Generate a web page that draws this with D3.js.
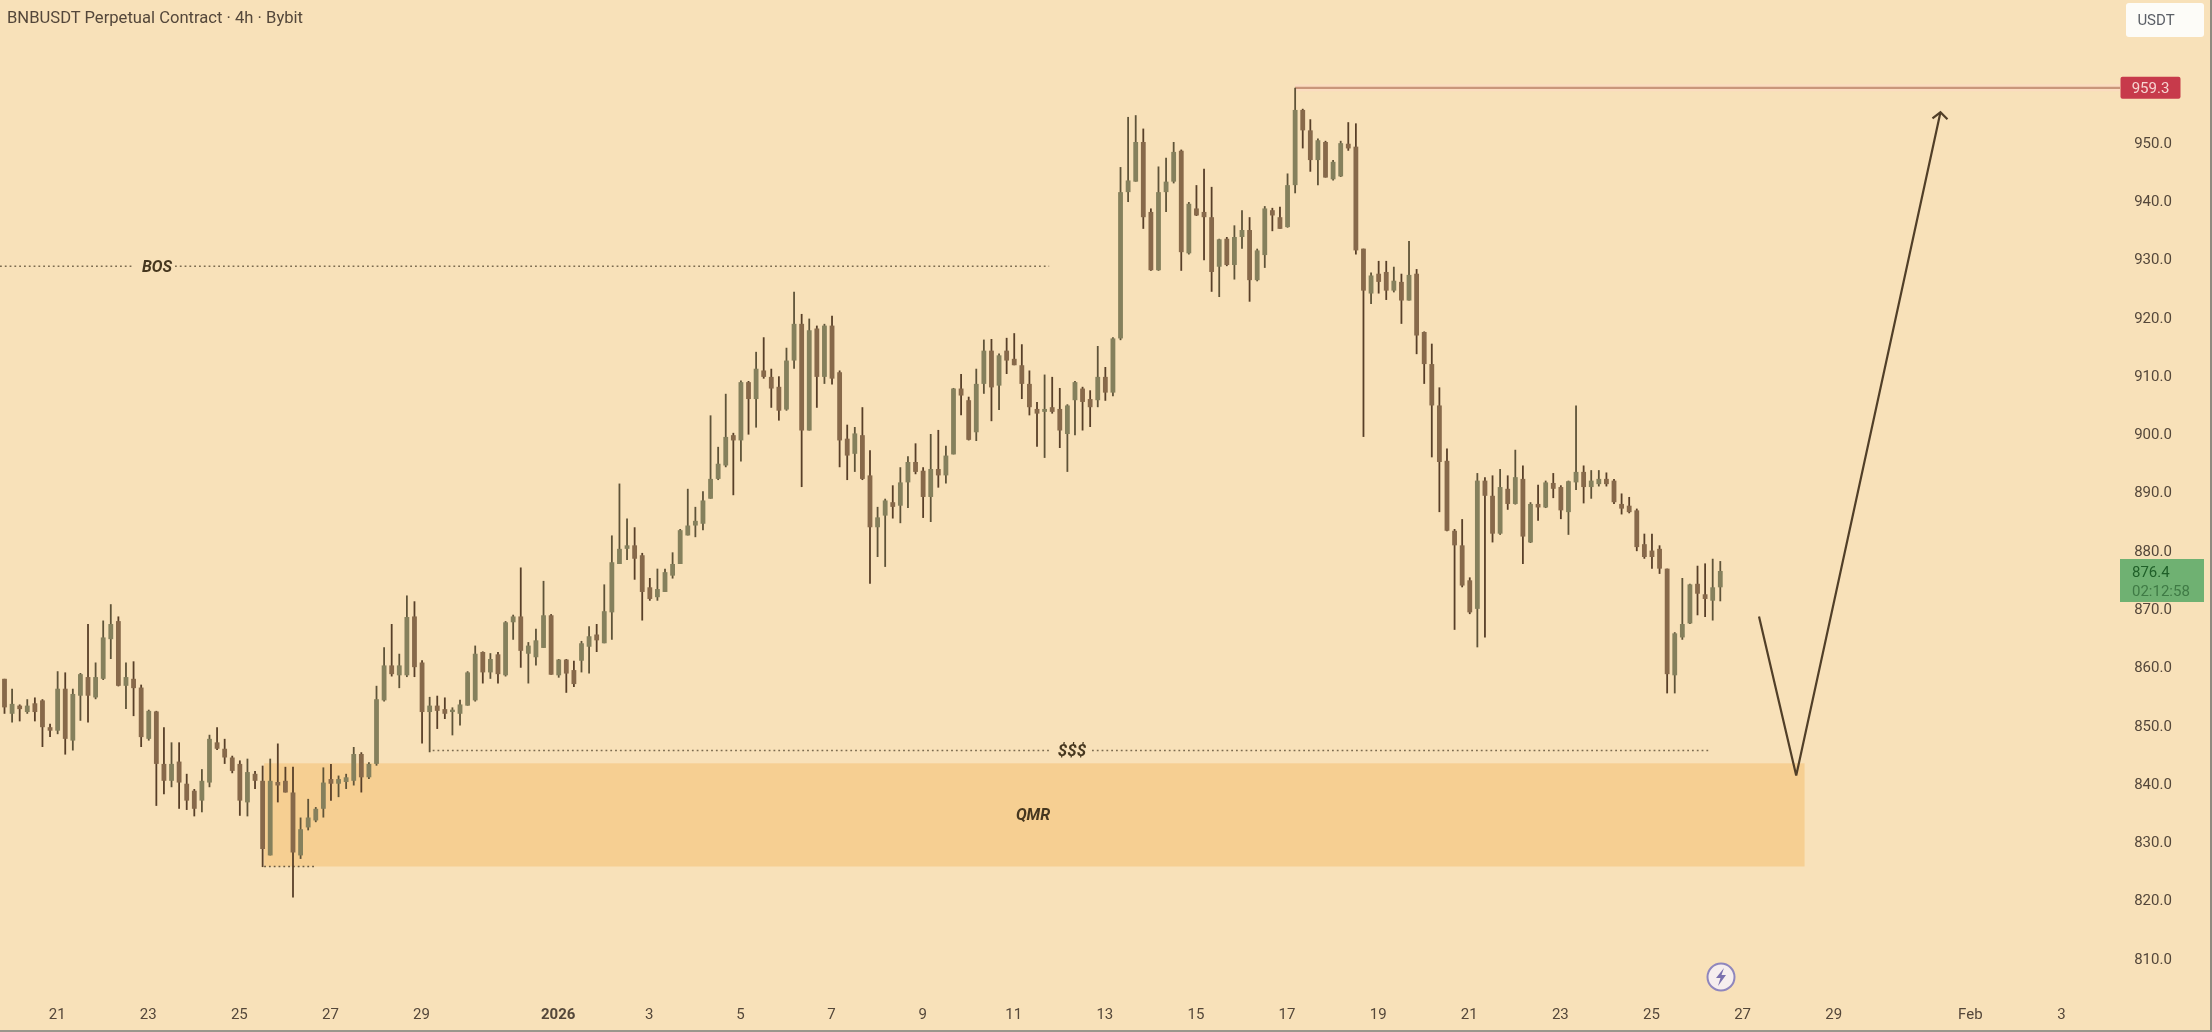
<!DOCTYPE html>
<html><head><meta charset="utf-8">
<script src="https://cdn.jsdelivr.net/npm/d3@7/dist/d3.min.js"></script>
<style>
html,body{margin:0;padding:0;background:#f8e1b9;overflow:hidden}
svg{display:block;filter:blur(0.7px)}
text{font-family:Roboto,sans-serif}
</style></head><body><svg id="c" width="2212" height="1032"></svg>
<script>
const title = "BNBUSDT Perpetual Contract · 4h · Bybit";
const firstBar = new Date(2025, 11, 19, 20);
const opens = [857.9,851.9,853.3,852.2,853.7,854.2,849.6,849.0,856.2,847.3,
855.0,858.2,854.7,857.9,864.7,867.8,856.7,857.9,856.4,847.6,
852.3,843.3,840.4,843.7,839.9,838.7,837.0,840.1,847.0,845.9,
844.4,843.3,836.7,841.6,840.4,827.6,840.2,840.4,838.4,827.6,
832.4,833.6,835.6,840.7,839.9,840.2,840.4,845.0,841.0,843.3,
854.2,860.2,858.5,858.5,868.6,860.7,852.2,853.3,852.7,852.2,
851.9,853.3,854.2,862.5,859.0,862.1,858.5,867.6,868.6,862.2,
861.6,863.2,868.8,858.5,861.2,859.4,861.0,863.4,865.5,864.0,
869.3,877.6,880.2,880.8,879.1,873.6,871.9,872.8,875.6,877.6,
882.5,884.2,884.5,888.8,892.2,894.5,899.7,898.8,908.8,905.9,
910.8,909.7,908.0,904.1,912.5,918.8,900.5,918.0,909.7,918.5,
910.5,899.1,896.5,899.7,892.8,883.9,885.9,888.2,887.6,891.6,
895.1,893.6,889.1,893.9,892.8,896.4,907.7,905.7,900.2,908.5,
914.2,908.2,914.2,912.8,911.7,908.5,904.2,903.7,904.5,904.2,
899.9,905.7,907.7,905.9,905.7,909.7,907.0,916.3,941.4,943.2,
950.0,938.0,928.0,941.4,943.2,948.5,930.9,938.6,938.0,937.1,
928.6,933.4,928.9,933.7,934.9,926.3,930.6,938.3,937.1,935.4,
942.6,955.5,952.0,946.9,950.0,943.6,944.1,949.7,949.2,931.7,
924.0,927.4,927.7,924.5,926.0,922.8,927.4,917.4,911.9,904.8,
895.3,883.3,880.8,874.8,869.9,891.9,889.3,882.8,890.5,887.9,
892.2,881.3,887.9,887.3,891.5,890.8,886.5,891.6,893.4,890.8,
891.3,892.2,891.9,887.9,887.6,886.8,881.0,879.9,880.2,876.8,
858.5,865.0,867.4,874.2,872.4,871.3,873.6];
const closes = [853.0,853.6,852.7,853.3,852.2,849.6,849.0,856.2,847.6,855.3,
858.7,855.0,858.2,865.0,867.3,856.7,858.2,856.3,847.9,852.4,
843.3,840.4,843.3,840.1,837.0,835.6,840.4,847.6,845.9,844.4,
842.1,837.0,841.9,840.4,828.7,840.4,839.6,838.4,828.1,832.1,
834.1,835.6,840.1,839.9,840.7,841.0,845.0,841.0,843.3,854.4,
860.2,858.7,860.2,868.5,859.9,852.2,853.3,852.4,851.9,852.6,
853.5,859.0,862.2,859.0,861.3,858.7,867.6,868.6,862.7,863.6,
864.5,868.8,858.6,861.2,858.8,857.0,864.0,865.2,864.5,869.5,
877.9,880.2,880.8,878.5,872.8,871.6,873.3,876.2,877.6,883.4,
884.2,885.0,888.5,892.2,894.8,899.4,898.8,908.8,905.9,911.1,
909.7,907.7,903.9,912.5,918.8,900.5,917.7,909.7,918.5,909.4,
898.8,896.2,900.0,892.2,883.9,885.6,888.5,887.4,891.6,895.1,
893.4,889.1,893.9,892.8,896.2,907.7,906.5,898.9,908.5,914.2,
907.9,913.4,912.5,911.7,908.5,904.5,903.4,904.2,903.7,900.5,
904.8,908.8,905.4,904.5,909.7,907.0,916.3,941.4,943.4,950.0,
937.1,928.0,941.4,943.2,948.3,931.1,939.4,937.4,937.1,927.7,
933.3,928.9,933.7,934.9,926.3,931.4,938.6,937.4,935.1,942.6,
955.5,952.0,946.9,950.3,943.9,946.6,949.8,948.9,931.4,924.5,
927.1,926.0,924.5,926.2,922.8,927.2,916.8,911.9,904.8,895.1,
883.3,880.8,873.9,869.3,891.9,889.3,882.8,890.8,887.9,892.5,
882.3,887.9,887.3,891.6,890.5,886.8,891.8,893.4,890.8,891.9,
892.2,891.3,888.2,887.1,886.5,880.5,878.8,878.8,876.8,858.7,
865.7,867.3,874.1,872.5,871.6,873.6,876.4];
const highs = [857.9,856.2,853.5,854.4,854.7,854.4,850.2,859.2,859.0,856.2,
858.9,867.3,860.7,867.9,870.7,868.6,860.7,860.9,856.9,852.6,
852.4,849.6,847.0,847.0,841.6,839.0,842.4,848.3,849.6,847.6,
844.7,843.9,844.2,842.1,843.0,844.2,846.8,842.8,842.8,834.1,
837.3,835.9,842.7,843.3,841.3,841.6,846.2,845.3,843.6,856.7,
863.3,867.3,862.2,872.2,871.2,861.1,854.8,855.0,854.7,853.0,
854.3,859.2,863.6,862.6,862.3,862.5,867.8,868.9,877.0,864.2,
866.5,874.7,869.0,861.3,861.3,861.0,864.4,866.9,867.3,874.1,
882.5,891.4,885.4,883.9,879.5,875.2,876.8,876.8,879.6,883.6,
890.5,887.4,890.1,903.1,897.7,906.8,900.1,909.1,909.0,914.0,
916.5,911.1,909.8,914.7,924.3,920.5,919.7,918.5,918.8,920.2,
910.8,901.5,901.1,904.5,897.1,887.4,888.8,891.1,894.2,896.1,
898.3,894.2,899.9,900.6,897.9,907.8,910.2,906.3,911.1,916.1,
916.2,913.7,916.4,917.2,915.3,910.8,905.4,910.1,909.7,907.8,
905.0,909.0,908.0,907.4,915.0,911.4,916.5,945.7,954.3,954.6,
952.3,938.6,945.8,947.3,950.0,948.7,939.7,942.6,945.4,942.3,
933.4,933.7,935.7,938.3,937.1,931.7,939.0,938.7,938.9,944.6,
959.3,955.7,953.9,950.6,950.2,946.9,950.2,953.4,953.2,931.7,
927.6,929.6,929.6,928.6,927.4,933.0,928.2,917.5,915.4,907.9,
897.4,883.6,885.3,875.3,893.2,892.5,892.8,893.9,892.8,897.2,
894.5,888.2,891.2,891.9,893.2,891.1,891.9,904.8,894.5,893.7,
893.7,893.3,892.2,889.7,889.1,887.1,882.8,882.8,880.8,876.8,
865.9,875.2,874.2,877.3,877.7,878.5,878.1];
const lows = [851.9,850.4,850.6,851.9,850.6,846.2,847.9,848.4,844.9,845.6,
850.7,850.4,854.4,857.7,861.3,856.6,852.7,851.5,846.2,847.3,
836.1,838.1,839.3,835.6,835.4,834.3,835.0,839.3,845.7,843.3,
841.7,834.4,834.3,839.0,825.6,827.6,836.7,838.4,820.4,827.0,
831.9,833.3,834.1,837.0,837.6,839.0,839.6,838.4,840.7,843.0,
854.0,858.3,856.3,858.2,858.2,846.8,845.3,849.3,851.0,848.2,
849.9,853.3,854.0,857.1,857.9,857.1,858.3,864.6,859.8,857.1,
860.2,863.2,858.6,858.1,855.5,856.5,859.0,858.8,862.5,864.0,
864.6,877.6,878.3,874.9,867.9,871.3,871.3,872.8,875.1,877.6,
882.5,882.2,883.4,888.8,892.0,894.2,889.4,895.2,899.8,901.0,
909.4,904.4,902.2,903.9,911.1,890.8,900.5,904.4,908.5,908.4,
894.2,892.0,893.4,892.0,874.2,878.8,877.1,885.4,884.6,887.2,
893.0,885.5,884.8,890.7,891.4,896.4,903.1,898.8,898.7,906.8,
902.1,904.0,910.2,911.7,905.9,903.1,897.7,895.8,903.4,897.5,
893.4,899.7,900.5,901.1,904.5,905.6,906.4,916.0,939.7,943.2,
935.1,927.9,927.9,938.0,942.9,927.9,930.7,937.3,929.7,924.3,
923.4,928.7,926.4,931.7,922.6,926.1,928.4,934.7,935.1,935.3,
941.2,948.9,944.9,942.6,943.9,943.4,944.0,948.5,930.7,899.4,
922.2,924.0,922.9,924.2,918.8,922.8,913.6,908.5,895.9,886.5,
883.2,866.3,873.6,869.0,863.3,865.0,881.3,882.6,886.9,887.8,
877.6,881.2,885.0,887.2,888.9,885.3,882.6,890.3,888.0,888.8,
890.9,890.9,887.9,886.1,886.3,879.8,878.5,876.8,875.9,855.4,
855.4,864.6,867.3,868.8,868.5,867.9,871.2];
const priceTicks = [950,940,930,920,910,900,890,880,870,860,850,840,830,820,810];
const dateTicks = [new Date(2025,11,21),new Date(2025,11,23),new Date(2025,11,25),new Date(2025,11,27),new Date(2025,11,29),new Date(2026,0,1),new Date(2026,0,3),new Date(2026,0,5),new Date(2026,0,7),new Date(2026,0,9),new Date(2026,0,11),new Date(2026,0,13),new Date(2026,0,15),new Date(2026,0,17),new Date(2026,0,19),new Date(2026,0,21),new Date(2026,0,23),new Date(2026,0,25),new Date(2026,0,27),new Date(2026,0,29),new Date(2026,1,1),new Date(2026,1,3)];
const targetPrice = 959.3, lastPrice = 876.4, countdown = "02:12:58";
const bosPrice = 928.7, liqPrice = 845.6, zoneTop = 843.4, zoneBottom = 825.7;
const pathBars = [231.1, 236, 255], pathPrices = [868.6, 841.3, 955.1];

const BAR_MS = 4*3600*1000;
const barTime = i => new Date(+firstBar + i*BAR_MS);
const x = d3.scaleTime().domain([firstBar, barTime(280)]).range([4.5, 4.5+280*7.592]);
const y = d3.scaleLinear().domain([950,810]).range([142,958]);
const X = i => x(barTime(i));
const svg = d3.select("#c");
const TXT="#54473a";

svg.append("rect").attr("width",2212).attr("height",1032).attr("fill","#f8e1b9");

// QMR zone
svg.append("rect").attr("x",X(34.2)).attr("width",X(237.1)-X(34.2))
  .attr("y",y(zoneTop)).attr("height",y(zoneBottom)-y(zoneTop)).attr("fill","#f6cf92");

// dotted levels
function dotted(a,b,p,col){svg.append("line").attr("x1",a).attr("x2",b).attr("y1",y(p)).attr("y2",y(p))
  .attr("stroke",col||"#7c6c50").attr("stroke-width",1.5).attr("stroke-dasharray","1.8 3");}
dotted(0,133,bosPrice); dotted(175,X(137.6),bosPrice);
dotted(X(56.4),1050,liqPrice); dotted(1092,X(224.8),liqPrice);
dotted(X(34.2),X(40.8),zoneBottom,"#6a5a40");

// target line
svg.append("line").attr("x1",X(170)).attr("x2",2120).attr("y1",y(targetPrice)).attr("y2",y(targetPrice))
  .attr("stroke","#fbdcc0").attr("stroke-width",7);
svg.append("line").attr("x1",X(170)).attr("x2",2120).attr("y1",y(targetPrice)).attr("y2",y(targetPrice))
  .attr("stroke","#c9967a").attr("stroke-width",2.2);

// candles
const bars = d3.range(opens.length).map(i=>({i,o:opens[i],c:closes[i],h:highs[i],l:lows[i]}));
const g = svg.append("g");
g.selectAll("line.w").data(bars).join("line").attr("class","w")
  .attr("x1",d=>X(d.i)).attr("x2",d=>X(d.i)).attr("y1",d=>y(d.h)).attr("y2",d=>y(d.l))
  .attr("stroke",d=>d.c>=d.o?"#5f5338":"#583f28").attr("stroke-width",1.8);
g.selectAll("rect.b").data(bars).join("rect").attr("class","b")
  .attr("x",d=>X(d.i)-2.4).attr("width",4.8)
  .attr("y",d=>y(Math.max(d.o,d.c))).attr("height",d=>Math.max(1.5,Math.abs(y(d.o)-y(d.c))))
  .attr("fill",d=>d.c>=d.o?"#85805c":"#87694a");

// projected path
svg.append("path").attr("d",d3.line().x(d=>X(d[0])).y(d=>y(d[1]))(d3.zip(pathBars,pathPrices)))
  .attr("fill","none").attr("stroke","#513f28").attr("stroke-width",2.2);
const tipX=X(pathBars[2]), tipY=y(pathPrices[2]);
svg.append("path").attr("d",`M${tipX-8},${tipY+6}L${tipX},${tipY}L${tipX+7},${tipY+7}`)
  .attr("fill","none").attr("stroke","#513f28").attr("stroke-width",2.2);

// axes
const yAxis = d3.axisRight(y).tickValues(priceTicks).tickFormat(d3.format(".1f")).tickSize(0).tickPadding(0);
const ya = svg.append("g").attr("transform","translate(2153,0)").call(yAxis);
ya.select(".domain").remove();
ya.selectAll("text").attr("text-anchor","middle").attr("dy","0.35em").attr("font-size",15).attr("fill",TXT).attr("font-family","Roboto");
const xFmt = d => d.getMonth()===0&&d.getDate()===1 ? "2026" : d.getMonth()===1&&d.getDate()===1 ? "Feb" : String(d.getDate());
const xAxis = d3.axisBottom(x).tickValues(dateTicks).tickFormat(xFmt).tickSize(0).tickPadding(0);
const xa = svg.append("g").attr("transform","translate(-1,1014)").call(xAxis);
xa.select(".domain").remove();
xa.selectAll("text").attr("dy","0.35em").attr("y",0).attr("font-size",15).attr("fill",TXT).attr("font-family","Roboto")
  .attr("font-weight",d=>xFmt(d)==="2026"?700:400);

// edges
svg.append("rect").attr("x",2210).attr("y",0).attr("width",2).attr("height",1032).attr("fill","#8f8a80");
svg.append("rect").attr("x",0).attr("y",1030).attr("width",2212).attr("height",2).attr("fill","#9a968c");

// price tags
svg.append("rect").attr("x",2120.5).attr("y",y(targetPrice)-11).attr("width",60).attr("height",22).attr("rx",2).attr("fill","#c73a4b");
svg.append("text").attr("x",2150.5).attr("y",y(targetPrice)).attr("dy","0.35em").attr("text-anchor","middle")
  .attr("font-size",15).attr("fill","#f6d4d0").text(d3.format(".1f")(targetPrice));
const ly = 559;
svg.append("rect").attr("x",2120).attr("y",ly).attr("width",84).attr("height",43).attr("fill","#6fb172");
svg.append("text").attr("x",2132).attr("y",ly+13).attr("dy","0.35em").attr("font-size",15).attr("fill","#1f5f28").text(d3.format(".1f")(lastPrice));
svg.append("text").attr("x",2132).attr("y",ly+32).attr("dy","0.35em").attr("font-size",15).attr("fill","#3f7a45").text(countdown);

// USDT
svg.append("rect").attr("x",2126).attr("y",3).attr("width",78).attr("height",34).attr("rx",3).attr("fill","#fdfcf8");
svg.append("text").attr("x",2156).attr("y",20).attr("dy","0.35em").attr("text-anchor","middle").attr("font-size",15).attr("fill","#5b5f66").text("USDT");

// title and notes
svg.append("text").attr("x",7).attr("y",17).attr("dy","0.35em").attr("font-size",16.6).attr("fill",TXT).text(title);
function note(t,cx,cy,fs){svg.append("text").attr("x",cx).attr("y",cy).attr("dy","0.35em").attr("text-anchor","middle")
  .attr("font-size",fs||15).attr("font-style","italic").attr("font-weight",700).attr("fill","#46371f").text(t);}
note("BOS",157,266,16);
note("$$$",1072,750,17);
note("QMR",1033,814,16);

// lightning badge
const bx=1721, by=977;
svg.append("circle").attr("cx",bx).attr("cy",by).attr("r",13.5).attr("fill","#f6eeee").attr("stroke","#8f86bd").attr("stroke-width",2);
svg.append("path").attr("d",`M${bx+3},${by-9}L${bx-5},${by+1}L${bx-0.5},${by+1}L${bx-3},${by+9}L${bx+5},${by-2}L${bx+0.5},${by-2}Z`).attr("fill","#7a70ae");
</script></body></html>
